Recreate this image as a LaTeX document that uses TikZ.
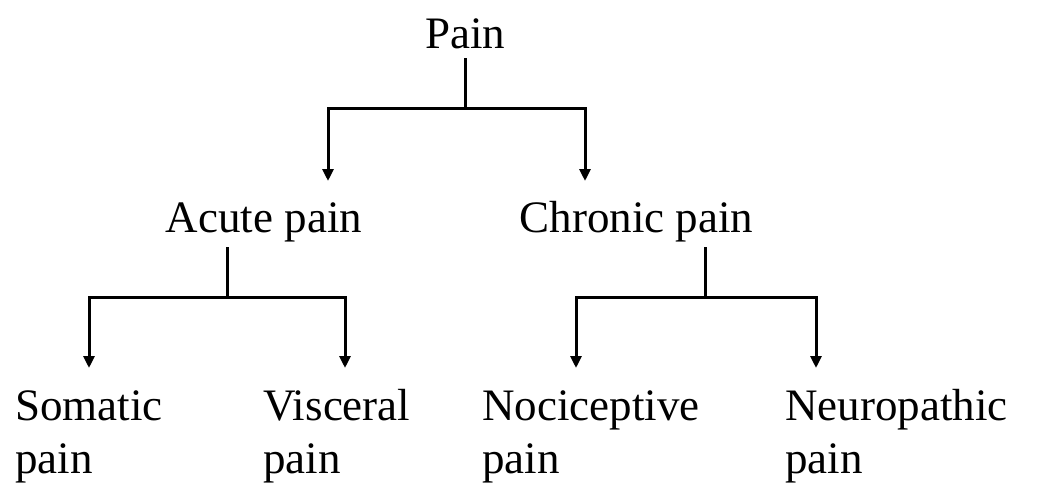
\documentclass[tikz,border=0pt]{standalone}
\usepackage{fontspec}
\setmainfont{Liberation Serif}
\usetikzlibrary{arrows.meta}
\begin{document}
\begin{tikzpicture}[x=1pt,y=-1pt,
  lbl/.style={inner sep=0pt,font=\fontsize{45}{53}\selectfont},
  leaf/.style={lbl,anchor=base west,align=left},
  conn/.style={line width=3pt,line cap=rect,line join=miter},
  arr/.style={line width=3pt,-{Triangle[width=11pt,length=12pt]}}]
\useasboundingbox (0,0) rectangle (1039,487);
\node[lbl,anchor=base] (pain) at (465,49) {Pain};
\node[lbl,anchor=base] (acute) at (264,232) {Acute pain};
\node[lbl,anchor=base] (chronic) at (636.5,232) {Chronic pain};
\node[leaf] (som) at (15,473) {Somatic\\pain};
\node[leaf] (vis) at (263,473) {Visceral\\pain};
\node[leaf] (noc) at (482,473) {Nociceptive\\pain};
\node[leaf] (neu) at (785,473) {Neuropathic\\pain};
% top branch
\coordinate (p0) at (465,60);
\coordinate (p1) at (465,108);
\coordinate (pl) at (328,108);
\coordinate (pr) at (585,108);
\coordinate (plt) at (328,181);
\coordinate (prt) at (585,181);
\draw[conn] (p0) -- (p1);
\draw[conn] (pl) -- (pr);
\draw[arr] (pl) -- (plt);
\draw[arr] (pr) -- (prt);
% acute branch
\coordinate (a0) at (227,248);
\coordinate (a1) at (227,297);
\coordinate (al) at (89,297);
\coordinate (ar) at (345,297);
\coordinate (alt) at (89,368);
\coordinate (art) at (345,368);
\draw[conn] (a0) -- (a1);
\draw[conn] (al) -- (ar);
\draw[arr] (al) -- (alt);
\draw[arr] (ar) -- (art);
% chronic branch
\coordinate (c0) at (705,248);
\coordinate (c1) at (705,297);
\coordinate (cl) at (576,297);
\coordinate (cr) at (816,297);
\coordinate (clt) at (576,368);
\coordinate (crt) at (816,368);
\draw[conn] (c0) -- (c1);
\draw[conn] (cl) -- (cr);
\draw[arr] (cl) -- (clt);
\draw[arr] (cr) -- (crt);
\end{tikzpicture}
\end{document}
